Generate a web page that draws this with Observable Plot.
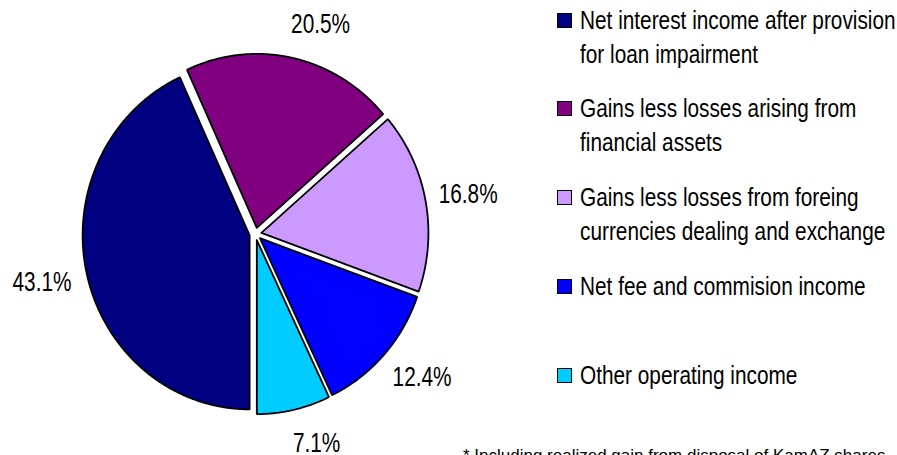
<!DOCTYPE html>
<html><head><meta charset="utf-8">
<script src="https://cdn.jsdelivr.net/npm/d3@7"></script>
<script src="https://cdn.jsdelivr.net/npm/@observablehq/plot@0.6"></script>
<style>
html,body{margin:0;padding:0;background:#fff;overflow:hidden;}
#wrap{position:relative;width:897px;height:455px;overflow:hidden;font-family:"Liberation Sans",Arial,sans-serif;color:#000;}
#chart{position:absolute;left:0;top:0;}
.item{position:absolute;left:557px;}
.sw{position:absolute;left:0;top:10px;width:15px;height:15px;border:1.6px solid #000;box-sizing:border-box;}
.lab{position:absolute;left:23px;top:0;width:405px;font-size:26px;line-height:34px;transform:scaleX(0.8);transform-origin:0 0;}
#note{position:absolute;left:463px;top:447px;font-size:17px;line-height:17px;white-space:nowrap;}
</style></head>
<body>
<div id="wrap"><div id="chart"></div><div id="legend"></div><div id="note"></div></div>
<script>
const categories = [
  "Net interest income after provision for loan impairment",
  "Gains less losses arising from financial assets",
  "Gains less losses from foreing currencies dealing and exchange",
  "Net fee and commision income",
  "Other operating income"
];
const values = [43.1, 20.5, 16.8, 12.4, 7.1];
const colors = ["#000080", "#800080", "#CC99FF", "#0000FF", "#00CCFF"];
const pctLabels = ["43.1%", "20.5%", "16.8%", "12.4%", "7.1%"];
const footnote = "* Including realized gain from disposal of KamAZ shares";

const data = categories.map((c, i) => ({cat: c, value: values[i], label: pctLabels[i]}));

const cx = 255, cy = 233.5, rx = 167, ry = 174, W = 897, H = 455;

// pie geometry in radius units (y up), first slice starts at 6 o'clock, clockwise
const arcs = d3.pie().sort(null).value(d => d.value).startAngle(Math.PI).endAngle(3 * Math.PI)(data);
const explode = 0.036;
const pts = [];
const lbl = [];
arcs.forEach(a => {
  const mid = (a.startAngle + a.endAngle) / 2;
  const ox = explode * Math.sin(mid), oy = explode * Math.cos(mid);
  pts.push({cat: a.data.cat, x: ox, y: oy});
  const n = Math.max(4, Math.ceil((a.endAngle - a.startAngle) / 0.005));
  for (let k = 0; k <= n; k++) {
    const t = a.startAngle + (a.endAngle - a.startAngle) * k / n;
    pts.push({cat: a.data.cat, x: ox + Math.sin(t), y: oy + Math.cos(t)});
  }
  pts.push({cat: a.data.cat, x: ox, y: oy});
  const s = Math.sin(mid), c = Math.cos(mid);
  const r = 1.11;
  lbl.push({x: ox + r * s, y: oy + r * c + (15 / ry) * c, text: a.data.label, right: s >= 0});
});

const font = '"Liberation Sans",Arial,sans-serif';
const chart = Plot.plot({
  width: W, height: H, margin: 0,
  style: {fontFamily: font, background: "#fff"},
  x: {domain: [-cx / rx, (W - cx) / rx], axis: null},
  y: {domain: [-(H - cy) / ry, cy / ry], axis: null},
  color: {domain: categories, range: colors},
  marks: [
    Plot.line(pts, {x: "x", y: "y", z: "cat", fill: "cat", stroke: "#000", strokeWidth: 1.8, curve: "linear", strokeLinejoin: "miter"}),
    Plot.text(lbl.filter(d => d.right), {x: "x", y: "y", text: "text", fontSize: 27, fill: "#000", textAnchor: "start", dx: -5, className: "pct"}),
    Plot.text(lbl.filter(d => !d.right), {x: "x", y: "y", text: "text", fontSize: 27, fill: "#000", textAnchor: "end", dx: 3, dy: 3, className: "pct"})
  ]
});
document.getElementById("chart").append(chart);
// narrow the percentage labels (condensed face like the original)
chart.querySelectorAll("g.pct text").forEach(t => {
  const w = t.getComputedTextLength();
  t.setAttribute("textLength", (w * 0.77).toFixed(1));
  t.setAttribute("lengthAdjust", "spacingAndGlyphs");
});

const legend = document.getElementById("legend");
categories.forEach((c, i) => {
  const it = document.createElement("div");
  it.className = "item";
  it.style.top = (2.5 + i * 88.75) + "px";
  const sw = document.createElement("div");
  sw.className = "sw";
  sw.style.background = colors[i];
  const lab = document.createElement("div");
  lab.className = "lab";
  lab.textContent = c;
  it.append(sw, lab);
  legend.append(it);
});
document.getElementById("note").textContent = footnote;
</script>
</body></html>
